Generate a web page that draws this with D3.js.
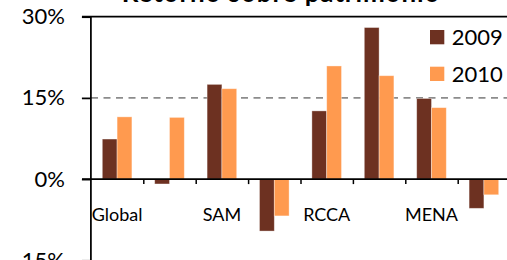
<!DOCTYPE html>
<html>
<head>
<meta charset="utf-8">
<script src="https://cdn.jsdelivr.net/npm/d3@7"></script>
<style>
  body { margin: 0; background: #fff; }
  svg { display: block; font-family: Lato, "Open Sans", sans-serif; }
</style>
</head>
<body>
<svg id="chart" width="507" height="260"></svg>
<script>
// data (return on equity, %)
var categories = ["Global", "", "SAM", "", "RCCA", "", "MENA", ""];
var series = ["2009", "2010"];
var values2009 = [7.4, -0.9, 17.5, -9.6, 12.6, 28.0, 14.9, -5.4];
var values2010 = [11.5, 11.4, 16.7, -6.8, 20.9, 19.1, 13.2, -2.9];
var yTicks = [-15, 0, 15, 30];
var title = "Retorno sobre patrimônio";

var colors = {"2009": "#6d3121", "2010": "#ff9a4f"};

var svg = d3.select("#chart");

var rows = categories.map(function(c, i) {
    return {i: i, name: c, "2009": values2009[i], "2010": values2010[i]};
});

var y = d3.scaleLinear()
    .domain([-15, 30])
    .range([260.3, 16.7]);

var x0 = d3.scaleBand()
    .domain(d3.range(categories.length))
    .range([90.9, 510.1])
    .paddingInner(0.435)
    .paddingOuter(0.2175);

var x1 = d3.scaleBand()
    .domain(series)
    .range([0, x0.bandwidth()]);

// edges of the categories, for the ticks on the 0% line
var xEdge = d3.scaleLinear()
    .domain([0, categories.length])
    .range(x0.range());

// title (mostly cut off at the top)
svg.append("text")
    .attr("x", 281)
    .attr("y", 1.5)
    .attr("text-anchor", "middle")
    .style("font-size", "26px")
    .style("font-weight", "bold")
    .style("letter-spacing", "0.9px")
    .attr("fill", "#000")
    .text(title);

// 30% line and dashed 15% line
svg.append("line")
    .attr("x1", 82).attr("x2", 507)
    .attr("y1", y(30)).attr("y2", y(30))
    .attr("stroke", "#000")
    .attr("stroke-width", 1.75);

svg.append("line")
    .attr("x1", 91).attr("x2", 507)
    .attr("y1", y(15)).attr("y2", y(15))
    .attr("stroke", "#8c8c8c")
    .attr("stroke-width", 1.75)
    .attr("stroke-dasharray", "7,5.5");

// bars
svg.append("g")
    .selectAll("g")
    .data(rows)
    .enter().append("g")
    .attr("transform", function(d) { return "translate(" + x0(d.i) + ",0)"; })
    .selectAll("rect")
    .data(function(d) { return series.map(function(s) { return {key: s, value: d[s]}; }); })
    .enter().append("rect")
    .attr("x", function(d) { return x1(d.key); })
    .attr("y", function(d) { return y(Math.max(0, d.value)); })
    .attr("width", x1.bandwidth())
    .attr("height", function(d) { return Math.abs(y(d.value) - y(0)); })
    .attr("fill", function(d) { return colors[d.key]; })
    .attr("stroke", "rgba(255,255,255,0.45)")
    .attr("stroke-width", 0.8);

// y axis
var yAxis = svg.append("g")
    .attr("transform", "translate(90.9,0)")
    .call(d3.axisLeft(y)
        .tickValues(yTicks)
        .tickSize(9)
        .tickPadding(17)
        .tickFormat(function(d) { return (d < 0 ? "-" : "") + Math.abs(d) + "%"; }));

yAxis.select(".domain").attr("stroke", "#000").attr("stroke-width", 1.75)
    .attr("d", "M0,16.7V262");
yAxis.selectAll(".tick line").attr("stroke", "#000").attr("stroke-width", 1.75);
yAxis.selectAll(".tick text")
    .attr("fill", "#000")
    .style("font-family", "Lato, sans-serif")
    .style("font-size", "22px");

// x axis on the 0% line
var xAxis = svg.append("g")
    .attr("transform", "translate(0," + y(0) + ")")
    .call(d3.axisBottom(xEdge)
        .tickValues(d3.range(1, categories.length))
        .tickSize(5)
        .tickSizeOuter(0)
        .tickFormat(""));

xAxis.select(".domain").attr("stroke", "#000").attr("stroke-width", 1.75)
    .attr("d", "M82,0H507");
xAxis.selectAll(".tick line").attr("stroke", "#000").attr("stroke-width", 1.5);

// category labels
svg.append("g")
    .selectAll("text")
    .data(rows)
    .enter().append("text")
    .attr("x", function(d) { return x0(d.i) + x0.bandwidth() / 2; })
    .attr("y", 220.5)
    .attr("text-anchor", "middle")
    .style("font-size", "18px")
    .attr("fill", "#000")
    .text(function(d) { return d.name; });

// legend
var legend = svg.selectAll(".legend")
    .data(series)
    .enter().append("g")
    .attr("class", "legend")
    .attr("transform", function(d, i) { return "translate(430," + (30 + i * 36.7) + ")"; });

legend.append("rect")
    .attr("width", 14.3)
    .attr("height", 14.3)
    .attr("fill", function(d) { return colors[d]; });

legend.append("text")
    .attr("x", 21.7)
    .attr("y", 15)
    .style("font-size", "22px")
    .attr("fill", "#000")
    .text(function(d) { return d; });
</script>
</body>
</html>
